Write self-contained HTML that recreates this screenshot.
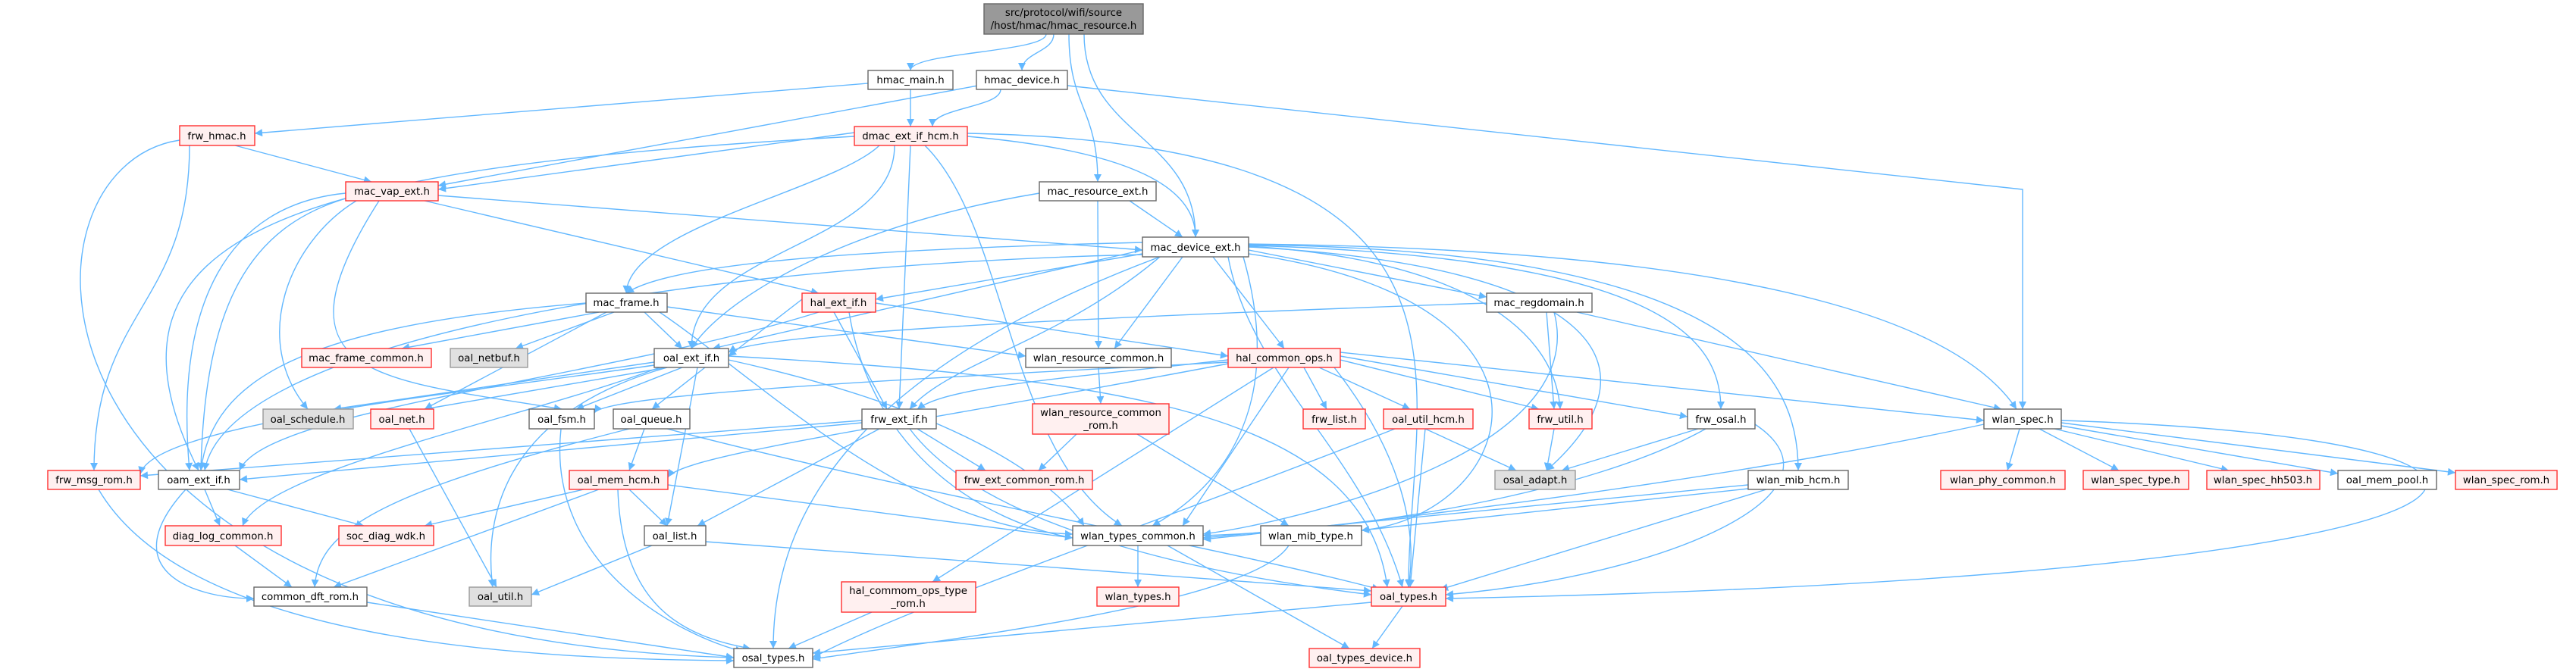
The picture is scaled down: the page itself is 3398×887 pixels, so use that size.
<!DOCTYPE html>
<html><head><meta charset="utf-8">
<style>
html,body{margin:0;padding:0;background:#fff;}
svg{display:block;}
.e path{fill:none;stroke:#63b8ff;stroke-width:1.4;}
.n rect{stroke-width:1.4;}
.w{fill:#fff;stroke:#666;}
.r{fill:#fff0f0;stroke:#ff3030;}
.g{fill:#e0e0e0;stroke:#999;}
.k{fill:#999;stroke:#666;}
text{font-family:"DejaVu Sans","Liberation Sans",sans-serif;font-size:13.3px;fill:#000;text-anchor:middle;}
</style></head>
<body>
<svg width="3398" height="887" viewBox="0 0 3398 887" xmlns="http://www.w3.org/2000/svg">
<defs>
<marker id="a" viewBox="0 0 10 10" refX="10" refY="5" markerWidth="13" markerHeight="10" markerUnits="userSpaceOnUse" orient="auto">
<path d="M0 0 L10 5 L0 10 z" fill="#63b8ff"/>
</marker>
</defs>
<g class="e" marker-end="url(#a)">
<path d="M1380 45 C1380 69,1201 69,1201 93" marker-end="url(#a)"/>
<path d="M1390 45 C1390 69,1348 69,1348 93" marker-end="url(#a)"/>
<path d="M1410 45 C1410 142,1448 142,1448 240" marker-end="url(#a)"/>
<path d="M1430 45 C1430 179,1577 179,1577 313" marker-end="url(#a)"/>
<path d="M1145 110 L336 176" marker-end="url(#a)"/>
<path d="M1201 118 L1201 167" marker-end="url(#a)"/>
<path d="M1320 118 C1320 142,1230 142,1230 167" marker-end="url(#a)"/>
<path d="M1290 113 L578 245" marker-end="url(#a)"/>
<path d="M1408 113 L2668 250 L2668 540" marker-end="url(#a)"/>
<path d="M310 192 L490 240" marker-end="url(#a)"/>
<path d="M250 192 C250 406,124 406,124 621" marker-end="url(#a)"/>
<path d="M237 185 C0 220,0 840,968 868" marker-end="url(#a)"/>
<path d="M1127 175 L578 250" marker-end="url(#a)"/>
<path d="M1127 180 C400 220,100 300,262 621" marker-end="url(#a)"/>
<path d="M1276 180 C1500 200,1577 250,1577 313" marker-end="url(#a)"/>
<path d="M1160 192 C1100 250,830 300,826 387" marker-end="url(#a)"/>
<path d="M1180 192 C1180 326,912 326,912 460" marker-end="url(#a)"/>
<path d="M1201 192 L1186 540" marker-end="url(#a)"/>
<path d="M1220 192 C1330 300,1330 600,1480 694" marker-end="url(#a)"/>
<path d="M1276 176 C2000 190,1858 500,1858 775" marker-end="url(#a)"/>
<path d="M578 258 L1507 330" marker-end="url(#a)"/>
<path d="M560 265 L1080 387" marker-end="url(#a)"/>
<path d="M456 255 C300 270,230 400,250 621" marker-end="url(#a)"/>
<path d="M456 262 C330 300,270 400,265 621" marker-end="url(#a)"/>
<path d="M470 265 C380 320,330 450,406 540" marker-end="url(#a)"/>
<path d="M500 265 C350 500,500 500,741 540" marker-end="url(#a)"/>
<path d="M1490 265 L1560 313" marker-end="url(#a)"/>
<path d="M1448 265 L1449 460" marker-end="url(#a)"/>
<path d="M1371 255 C1100 300,950 400,912 460" marker-end="url(#a)"/>
<path d="M1507 320 C1100 330,880 350,826 387" marker-end="url(#a)"/>
<path d="M1507 330 L940 460" marker-end="url(#a)"/>
<path d="M1507 335 L1155 395" marker-end="url(#a)"/>
<path d="M1647 330 L1961 392" marker-end="url(#a)"/>
<path d="M1560 339 L1470 460" marker-end="url(#a)"/>
<path d="M1600 339 L1694 460" marker-end="url(#a)"/>
<path d="M1530 339 C1400 450,1250 480,1200 540" marker-end="url(#a)"/>
<path d="M1647 325 C1900 340,2050 420,2058 540" marker-end="url(#a)"/>
<path d="M1647 326 C2100 350,2200 480,2040 621" marker-end="url(#a)"/>
<path d="M1647 324 C2200 340,2270 450,2270 540" marker-end="url(#a)"/>
<path d="M1647 323 C2300 330,2372 500,2372 621" marker-end="url(#a)"/>
<path d="M1647 322 C2400 330,2600 450,2660 540" marker-end="url(#a)"/>
<path d="M1507 336 C900 350,300 450,270 621" marker-end="url(#a)"/>
<path d="M1530 339 C1100 500,1020 700,1020 856" marker-end="url(#a)"/>
<path d="M1640 339 C1700 550,1600 650,1520 694" marker-end="url(#a)"/>
<path d="M1647 335 C2100 400,2000 680,1796 700" marker-end="url(#a)"/>
<path d="M1620 339 C1650 500,1800 600,1850 775" marker-end="url(#a)"/>
<path d="M790 412 L530 460" marker-end="url(#a)"/>
<path d="M810 412 L680 460" marker-end="url(#a)"/>
<path d="M850 412 L900 460" marker-end="url(#a)"/>
<path d="M773 400 C400 430,280 500,265 621" marker-end="url(#a)"/>
<path d="M800 412 L560 540" marker-end="url(#a)"/>
<path d="M880 405 L1353 470" marker-end="url(#a)"/>
<path d="M870 412 C1000 500,1200 700,1415 705" marker-end="url(#a)"/>
<path d="M1058 395 L961 470" marker-end="url(#a)"/>
<path d="M1155 400 L1620 470" marker-end="url(#a)"/>
<path d="M1100 412 L1170 540" marker-end="url(#a)"/>
<path d="M1120 412 C1150 600,1300 690,1415 710" marker-end="url(#a)"/>
<path d="M1080 412 C800 500,350 540,316 621" marker-end="url(#a)"/>
<path d="M1961 400 C1400 420,1000 440,961 465" marker-end="url(#a)"/>
<path d="M2040 412 L2050 540" marker-end="url(#a)"/>
<path d="M2080 412 L2640 540" marker-end="url(#a)"/>
<path d="M2050 412 C2100 600,1700 690,1587 705" marker-end="url(#a)"/>
<path d="M863 478 L440 540" marker-end="url(#a)"/>
<path d="M880 485 L560 540" marker-end="url(#a)"/>
<path d="M900 485 L760 540" marker-end="url(#a)"/>
<path d="M930 485 L860 540" marker-end="url(#a)"/>
<path d="M920 485 L880 694" marker-end="url(#a)"/>
<path d="M880 485 C650 550,640 700,650 775" marker-end="url(#a)"/>
<path d="M870 485 C700 550,350 620,320 694" marker-end="url(#a)"/>
<path d="M863 482 C600 520,200 560,185 626" marker-end="url(#a)"/>
<path d="M961 470 C1500 500,1800 550,1830 775" marker-end="url(#a)"/>
<path d="M961 475 C1300 550,1400 650,1430 694" marker-end="url(#a)"/>
<path d="M1620 475 C1400 500,1250 510,1210 540" marker-end="url(#a)"/>
<path d="M1720 485 L1750 540" marker-end="url(#a)"/>
<path d="M1740 485 L1860 540" marker-end="url(#a)"/>
<path d="M1768 475 L2030 540" marker-end="url(#a)"/>
<path d="M1768 470 L2226 550" marker-end="url(#a)"/>
<path d="M1768 465 L2617 555" marker-end="url(#a)"/>
<path d="M1620 480 C1200 560,900 600,881 630" marker-end="url(#a)"/>
<path d="M1680 485 L1230 768" marker-end="url(#a)"/>
<path d="M1700 485 L1560 694" marker-end="url(#a)"/>
<path d="M1760 485 C1850 600,1870 700,1858 775" marker-end="url(#a)"/>
<path d="M1620 478 C1200 500,800 520,784 545" marker-end="url(#a)"/>
<path d="M1449 485 L1452 533" marker-end="url(#a)"/>
<path d="M1420 573 L1370 621" marker-end="url(#a)"/>
<path d="M1500 573 L1700 694" marker-end="url(#a)"/>
<path d="M1137 555 L185 628" marker-end="url(#a)"/>
<path d="M1137 558 L316 633" marker-end="url(#a)"/>
<path d="M1210 566 L1300 621" marker-end="url(#a)"/>
<path d="M1160 566 L920 694" marker-end="url(#a)"/>
<path d="M1200 566 C1300 700,1600 760,1809 785" marker-end="url(#a)"/>
<path d="M850 566 L830 621" marker-end="url(#a)"/>
<path d="M880 566 C1200 650,1600 720,1820 778" marker-end="url(#a)"/>
<path d="M830 566 C500 650,420 700,415 775" marker-end="url(#a)"/>
<path d="M740 566 C720 750,900 840,980 860" marker-end="url(#a)"/>
<path d="M540 566 L655 775" marker-end="url(#a)"/>
<path d="M130 646 C250 850,700 870,968 872" marker-end="url(#a)"/>
<path d="M270 646 L290 694" marker-end="url(#a)"/>
<path d="M300 646 L480 694" marker-end="url(#a)"/>
<path d="M245 646 C150 750,250 790,335 790" marker-end="url(#a)"/>
<path d="M770 646 L560 694" marker-end="url(#a)"/>
<path d="M790 646 L440 775" marker-end="url(#a)"/>
<path d="M830 646 L880 694" marker-end="url(#a)"/>
<path d="M881 640 L1415 710" marker-end="url(#a)"/>
<path d="M815 646 C820 800,900 840,990 856" marker-end="url(#a)"/>
<path d="M1880 566 L2000 621" marker-end="url(#a)"/>
<path d="M1880 566 L1860 775" marker-end="url(#a)"/>
<path d="M1840 566 C1500 700,1200 800,1072 868" marker-end="url(#a)"/>
<path d="M2050 566 L2040 621" marker-end="url(#a)"/>
<path d="M2240 566 L2060 621" marker-end="url(#a)"/>
<path d="M2315 560 C2450 650,2200 760,1907 785" marker-end="url(#a)"/>
<path d="M2250 566 C2100 650,1800 700,1587 707" marker-end="url(#a)"/>
<path d="M2664 566 L2648 621" marker-end="url(#a)"/>
<path d="M2690 566 L2795 621" marker-end="url(#a)"/>
<path d="M2710 566 L2940 621" marker-end="url(#a)"/>
<path d="M2719 562 L3084 625" marker-end="url(#a)"/>
<path d="M2719 558 L3239 624" marker-end="url(#a)"/>
<path d="M2719 555 C3500 580,3400 760,1907 790" marker-end="url(#a)"/>
<path d="M2617 560 C2200 650,1700 700,1587 712" marker-end="url(#a)"/>
<path d="M2306 640 L1587 710" marker-end="url(#a)"/>
<path d="M2306 645 L1796 700" marker-end="url(#a)"/>
<path d="M2330 646 L1900 778" marker-end="url(#a)"/>
<path d="M310 720 L385 775" marker-end="url(#a)"/>
<path d="M484 795 L968 868" marker-end="url(#a)"/>
<path d="M860 720 L701 785" marker-end="url(#a)"/>
<path d="M931 715 L1809 780" marker-end="url(#a)"/>
<path d="M1501 720 L1501 775" marker-end="url(#a)"/>
<path d="M1540 720 L1780 856" marker-end="url(#a)"/>
<path d="M1700 720 C1650 800,1200 850,1072 870" marker-end="url(#a)"/>
<path d="M1150 808 L1040 856" marker-end="url(#a)"/>
<path d="M1809 795 L1072 862" marker-end="url(#a)"/>
<path d="M1850 800 L1810 856" marker-end="url(#a)"/>
</g>
<g class="n">
<rect class="k" x="1298" y="5" width="210" height="40"/><text x="1403" y="21">src/protocol/wifi/source</text><text x="1403" y="38">/host/hmac/hmac_resource.h</text>
<rect class="w" x="1145" y="93" width="112" height="25"/><text x="1201" y="110">hmac_main.h</text>
<rect class="w" x="1288" y="93" width="120" height="25"/><text x="1348" y="110">hmac_device.h</text>
<rect class="r" x="237" y="166" width="99" height="26"/><text x="286" y="184">frw_hmac.h</text>
<rect class="r" x="1127" y="167" width="149" height="25"/><text x="1201" y="184">dmac_ext_if_hcm.h</text>
<rect class="r" x="456" y="240" width="122" height="25"/><text x="517" y="257">mac_vap_ext.h</text>
<rect class="w" x="1371" y="240" width="154" height="25"/><text x="1448" y="257">mac_resource_ext.h</text>
<rect class="w" x="1507" y="313" width="140" height="26"/><text x="1577" y="331">mac_device_ext.h</text>
<rect class="w" x="773" y="387" width="107" height="25"/><text x="826" y="404">mac_frame.h</text>
<rect class="r" x="1058" y="387" width="97" height="25"/><text x="1106" y="404">hal_ext_if.h</text>
<rect class="w" x="1961" y="387" width="139" height="25"/><text x="2030" y="404">mac_regdomain.h</text>
<rect class="r" x="398" y="460" width="171" height="25"/><text x="483" y="477">mac_frame_common.h</text>
<rect class="g" x="594" y="460" width="102" height="25"/><text x="645" y="477">oal_netbuf.h</text>
<rect class="w" x="863" y="460" width="98" height="25"/><text x="912" y="477">oal_ext_if.h</text>
<rect class="w" x="1353" y="460" width="192" height="25"/><text x="1449" y="477">wlan_resource_common.h</text>
<rect class="r" x="1620" y="460" width="148" height="25"/><text x="1694" y="477">hal_common_ops.h</text>
<rect class="g" x="347" y="540" width="119" height="26"/><text x="406" y="558">oal_schedule.h</text>
<rect class="r" x="489" y="540" width="83" height="26"/><text x="530" y="558">oal_net.h</text>
<rect class="w" x="698" y="540" width="86" height="26"/><text x="741" y="558">oal_fsm.h</text>
<rect class="w" x="809" y="540" width="101" height="26"/><text x="859" y="558">oal_queue.h</text>
<rect class="w" x="1137" y="540" width="98" height="26"/><text x="1186" y="558">frw_ext_if.h</text>
<rect class="r" x="1362" y="533" width="180" height="40"/><text x="1452" y="549">wlan_resource_common</text><text x="1452" y="566">_rom.h</text>
<rect class="r" x="1719" y="540" width="82" height="26"/><text x="1760" y="558">frw_list.h</text>
<rect class="r" x="1825" y="540" width="118" height="26"/><text x="1884" y="558">oal_util_hcm.h</text>
<rect class="r" x="2017" y="540" width="83" height="26"/><text x="2058" y="558">frw_util.h</text>
<rect class="w" x="2226" y="540" width="89" height="26"/><text x="2270" y="558">frw_osal.h</text>
<rect class="w" x="2617" y="540" width="102" height="26"/><text x="2668" y="558">wlan_spec.h</text>
<rect class="r" x="63" y="621" width="122" height="25"/><text x="124" y="638">frw_msg_rom.h</text>
<rect class="w" x="209" y="621" width="107" height="25"/><text x="262" y="638">oam_ext_if.h</text>
<rect class="r" x="751" y="621" width="130" height="25"/><text x="816" y="638">oal_mem_hcm.h</text>
<rect class="r" x="1261" y="621" width="180" height="25"/><text x="1351" y="638">frw_ext_common_rom.h</text>
<rect class="g" x="1972" y="621" width="106" height="25"/><text x="2025" y="638">osal_adapt.h</text>
<rect class="w" x="2306" y="621" width="132" height="25"/><text x="2372" y="638">wlan_mib_hcm.h</text>
<rect class="r" x="2560" y="621" width="164" height="25"/><text x="2642" y="638">wlan_phy_common.h</text>
<rect class="r" x="2748" y="621" width="139" height="25"/><text x="2817" y="638">wlan_spec_type.h</text>
<rect class="r" x="2911" y="621" width="149" height="25"/><text x="2985" y="638">wlan_spec_hh503.h</text>
<rect class="w" x="3084" y="621" width="130" height="25"/><text x="3149" y="638">oal_mem_pool.h</text>
<rect class="r" x="3239" y="621" width="134" height="25"/><text x="3306" y="638">wlan_spec_rom.h</text>
<rect class="r" x="218" y="694" width="153" height="26"/><text x="294" y="712">diag_log_common.h</text>
<rect class="r" x="447" y="694" width="125" height="26"/><text x="509" y="712">soc_diag_wdk.h</text>
<rect class="w" x="850" y="694" width="81" height="26"/><text x="890" y="712">oal_list.h</text>
<rect class="w" x="1415" y="694" width="172" height="26"/><text x="1501" y="712">wlan_types_common.h</text>
<rect class="w" x="1663" y="694" width="133" height="26"/><text x="1729" y="712">wlan_mib_type.h</text>
<rect class="w" x="335" y="775" width="149" height="25"/><text x="409" y="792">common_dft_rom.h</text>
<rect class="g" x="619" y="775" width="82" height="25"/><text x="660" y="792">oal_util.h</text>
<rect class="r" x="1110" y="768" width="177" height="40"/><text x="1198" y="784">hal_commom_ops_type</text><text x="1198" y="801">_rom.h</text>
<rect class="r" x="1447" y="775" width="108" height="25"/><text x="1501" y="792">wlan_types.h</text>
<rect class="r" x="1809" y="775" width="98" height="25"/><text x="1858" y="792">oal_types.h</text>
<rect class="w" x="968" y="856" width="104" height="25"/><text x="1020" y="873">osal_types.h</text>
<rect class="r" x="1727" y="856" width="146" height="25"/><text x="1800" y="873">oal_types_device.h</text>
</g>
</svg>
</body></html>
